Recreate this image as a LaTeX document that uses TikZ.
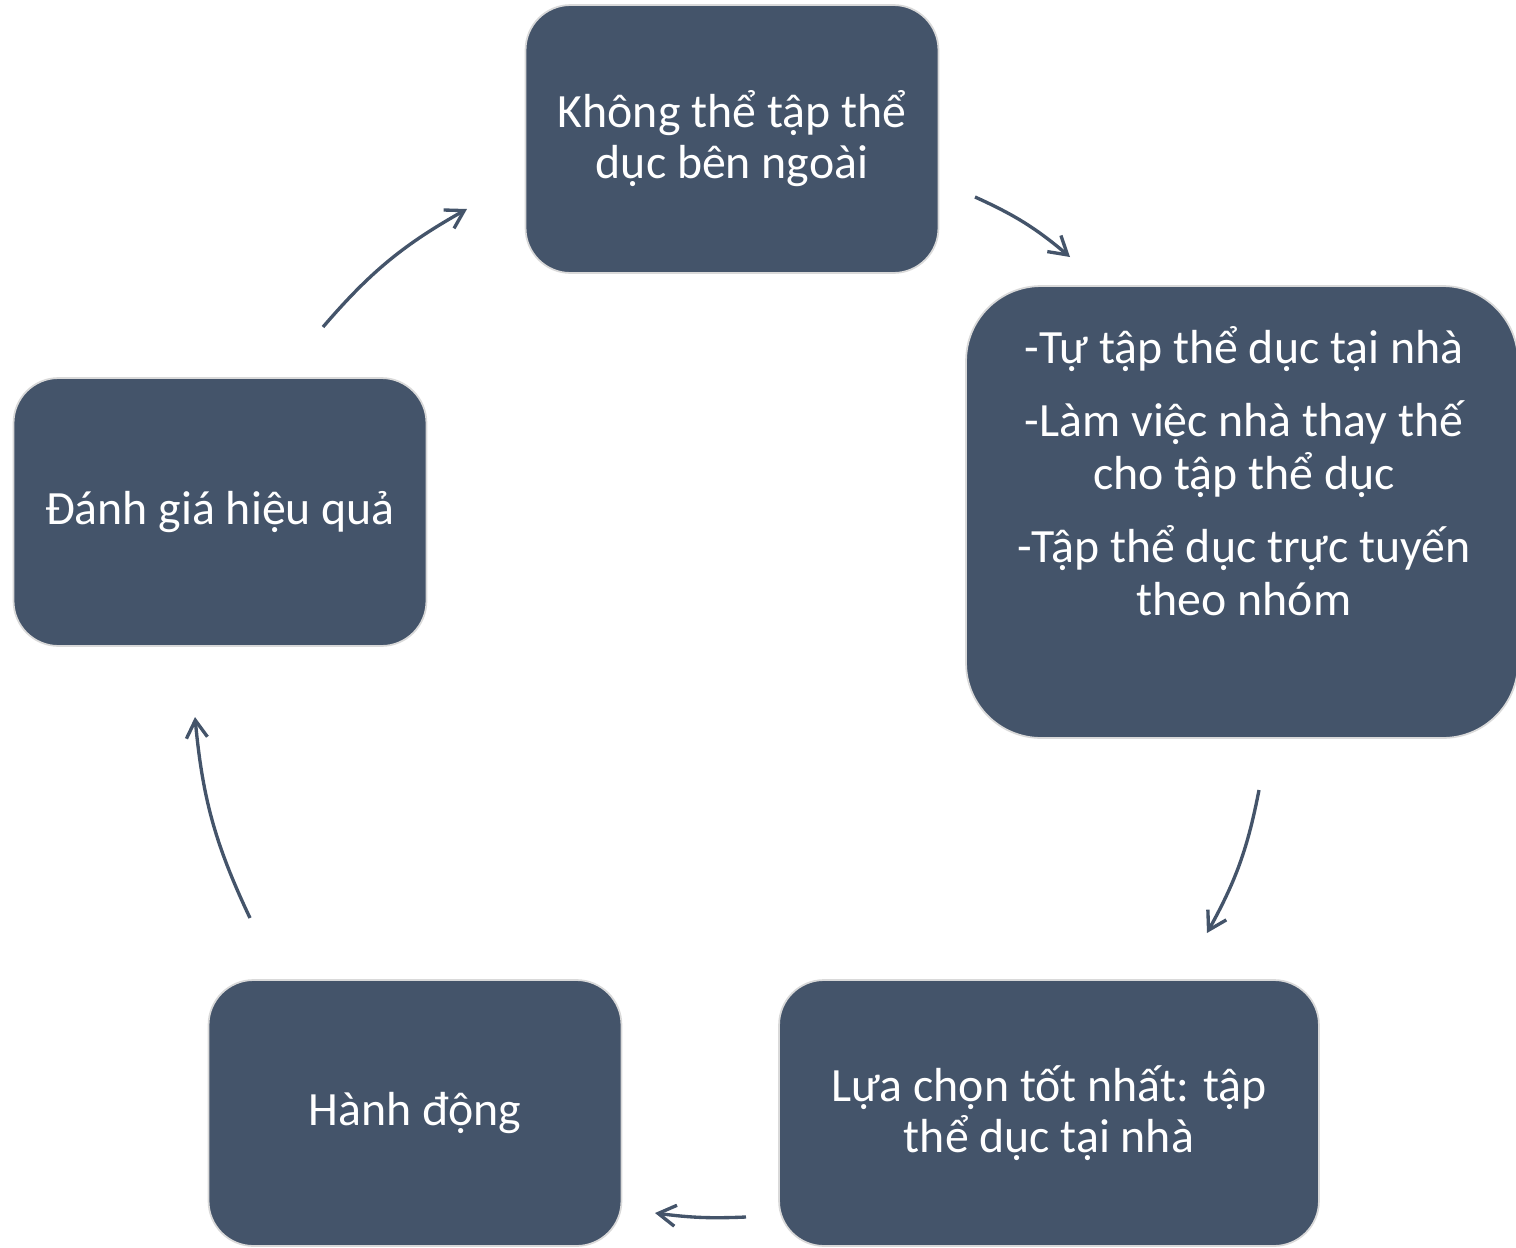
\documentclass[tikz,border=0pt]{standalone}
\usepackage{fontspec}
\setmainfont{Carlito}
\usetikzlibrary{arrows.meta,positioning}
\definecolor{slate}{HTML}{44546A}
\definecolor{rim}{HTML}{D9D9D9}

\begin{document}
\begin{tikzpicture}[
                x=0.02cm, y=-0.02cm,
                txt/.style={text=white, align=center,
                            font=\fontsize{27.2}{29}\selectfont},
                box/.style={txt, draw=rim, line width=1pt, fill=slate,
                            rounded corners=0.9cm, minimum width=8.26cm,
                            minimum height=5.36cm},
                cyc/.style={draw=slate, line width=1.9pt,
                            -{Straight Barb[length=10pt,width=12pt]}, bend left=#1}
            ]
            \useasboundingbox (0,0) rectangle (1516,1248);
            \node[box] (cant) at (732,139) {Không thể tập thể\\dục bên ngoài};
            \node[box, minimum width=11.04cm, minimum height=9.04cm,
                  rounded corners=1.5cm] (alt) at (1242,512) {};
            \node[txt, font=\fontsize{27.2}{29.8}\selectfont] (alttxt) at (1244,471)
                  {-Tự tập thể dục tại nhà\\[12pt]
                  -Làm việc nhà thay thế\\cho tập thể dục\\[12pt]
                  -Tập thể dục trực tuyến\\theo nhóm};
            \node[box, minimum width=10.8cm, minimum height=5.32cm] (best) at (1049,1113)
                  {Lựa chọn tốt nhất: tập\\thể dục tại nhà};
            \node[box, minimum height=5.32cm] (act) at (415,1113) {Hành động};
            \node[box] (eval) at (220,512) {Đánh giá hiệu quả};
            % free ends of the cycle arrows
            \coordinate (c1) at (975,197);  \coordinate (d1) at (1070,257);
            \coordinate (c2) at (1259,790); \coordinate (d2) at (1207,933);
            \coordinate (c3) at (746,1217); \coordinate (d3) at (655,1213);
            \coordinate (c4) at (250,918);  \coordinate (d4) at (195,717);
            \coordinate (c5) at (323,327);  \coordinate (d5) at (467,209);
            \draw[cyc=8]  (c1) to (d1);
            \draw[cyc=9]  (c2) to (d2);
            \draw[cyc=5]  (c3) to (d3);
            \draw[cyc=10] (c4) to (d4);
            \draw[cyc=10] (c5) to (d5);
            \end{tikzpicture}
\end{document}
